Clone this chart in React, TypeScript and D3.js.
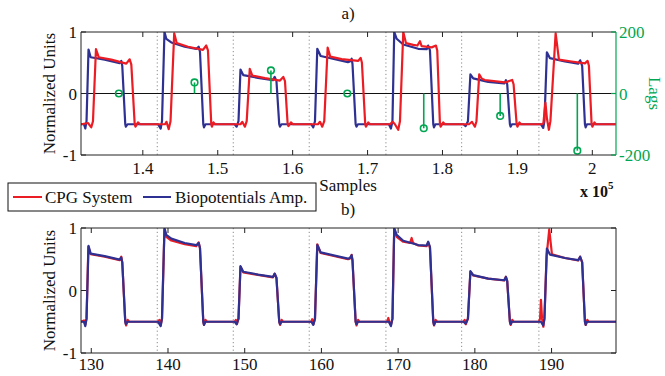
import React from "react";
import { line, scaleLinear } from "d3";

const WIDTH = 665;
const HEIGHT = 376;
const FONT = "'Liberation Serif', 'Times New Roman', serif";
const RED = "#ec1c24";
const BLUE = "#2e3192";
const GREEN = "#00a651";
const FS = 1024; // samples per second

const TOP = { left: 81, right: 616, top: 32, bottom: 155 };
const BOT = { left: 81, right: 616, top: 228, bottom: 353 };

// time domain in seconds (bottom panel), top panel uses samples = t * FS
const timeDomain = [128.66, 198.4];
const topTicks = [1.4, 1.5, 1.6, 1.7, 1.8, 1.9, 2.0];
const bottomTicks = [130, 140, 150, 160, 170, 180, 190];
const yTicks = [-1, 0, 1];
const lagTicks = [-200, 0, 200];
const markerTimes = [138.6, 148.51, 158.41, 168.41, 178.28, 188.35];

const lagPositions = [136800, 146900, 157100, 167300, 177500, 187700, 198000];
const lagValues = [0, 36, 75, 0, -113, -73, -186];

// biopotentials amplifier [seconds, normalized]
const bioAmp: [number, number][] = [
  [128.66, -0.5], [129.05, -0.5], [129.22, -0.57], [129.38, -0.45], [129.64, 0.715], [129.92, 0.59], [131.75, 0.55], [133.7, 0.495], [133.91, 0.53], [134.04, 0.45], [134.43, -0.5], [134.51, -0.54], [134.72, -0.5],
  [138.7, -0.5], [139.05, -0.57], [139.22, -0.45], [139.54, 1.0], [139.78, 0.89], [140.43, 0.83], [142.18, 0.76], [143.69, 0.725], [144.0, 0.76], [144.17, 0.68], [144.6, -0.5], [144.69, -0.55], [144.89, -0.5],
  [148.69, -0.5], [148.95, -0.54], [149.19, -0.45], [149.45, 0.39], [149.81, 0.3], [151.73, 0.255], [153.68, 0.217], [153.91, 0.27], [154.14, 0.2], [154.5, -0.5], [154.6, -0.54], [154.79, -0.5],
  [158.68, -0.5], [158.94, -0.55], [159.16, -0.45], [159.46, 0.727], [159.9, 0.61], [163.46, 0.51], [163.72, 0.52], [163.94, 0.565], [164.05, 0.48], [164.46, -0.5], [164.57, -0.54], [164.76, -0.5],
  [168.8, -0.5], [169.06, -0.57], [169.26, -0.45], [169.49, 1.0], [169.81, 0.89], [170.67, 0.796], [172.62, 0.727], [173.72, 0.72], [173.92, 0.78], [174.15, 0.7], [174.58, -0.5], [174.67, -0.55], [174.86, -0.5],
  [178.51, -0.5], [178.8, -0.53], [179.1, -0.45], [179.42, 0.31], [179.79, 0.245], [181.74, 0.19], [183.83, 0.164], [184.05, 0.217], [184.22, 0.15], [184.57, -0.5], [184.66, -0.54], [184.83, -0.5],
  [188.61, -0.5], [188.91, -0.56], [189.07, -0.45], [189.39, 0.67], [189.79, 0.575], [191.74, 0.52], [193.47, 0.485], [193.73, 0.54], [193.99, 0.45], [194.35, -0.5], [194.44, -0.55], [194.61, -0.5], [198.4, -0.5],
];

// CPG system, raw (top panel)
const cpgRaw: [number, number][] = [
  [128.66, -0.5], [129.57, -0.48], [130.0, -0.55], [130.22, -0.45], [130.61, 0.72], [130.97, 0.59], [132.61, 0.55], [134.56, 0.485], [135.01, 0.556], [135.22, 0.47], [135.66, -0.5], [135.76, -0.54], [136.09, -0.47], [136.35, -0.5],
  [139.61, -0.5], [139.8, -0.46], [140.09, -0.58], [140.33, -0.45], [140.81, 0.98], [141.13, 0.82], [142.61, 0.76], [144.56, 0.71], [144.99, 0.78], [145.21, 0.7], [145.64, -0.5], [145.73, -0.54], [145.93, -0.47], [146.12, -0.5],
  [149.45, -0.5], [149.68, -0.46], [150.03, -0.54], [150.26, -0.45], [150.66, 0.4], [150.99, 0.29], [152.64, 0.25], [154.6, 0.21], [155.03, 0.27], [155.25, 0.2], [155.6, -0.5], [155.7, -0.53], [156.03, -0.47], [156.29, -0.5],
  [159.55, -0.5], [159.81, -0.46], [160.11, -0.54], [160.37, -0.45], [160.81, 0.745], [161.15, 0.6], [162.64, 0.56], [164.8, 0.53], [165.11, 0.58], [165.28, 0.5], [165.71, -0.5], [165.8, -0.54], [166.1, -0.47], [166.33, -0.5],
  [168.93, -0.5], [169.28, -0.46], [169.58, -0.5], [170.01, -0.59], [170.24, -0.45], [170.67, 1.0], [171.02, 0.82], [171.97, 0.79], [172.52, 0.78], [172.84, 0.85], [173.06, 0.77], [174.37, 0.75], [174.93, 0.78], [175.1, 0.7], [175.45, -0.5], [175.54, -0.54], [175.88, -0.47], [176.1, -0.5],
  [179.23, -0.5], [179.62, -0.46], [180.01, -0.54], [180.21, -0.45], [180.57, 0.31], [180.92, 0.24], [181.31, 0.22], [183.92, 0.18], [184.87, 0.22], [185.05, 0.15], [185.45, -0.5], [185.55, -0.54], [185.81, -0.47], [186.01, -0.5],
  [188.74, -0.5], [188.94, -0.48], [189.2, -0.15], [189.39, -0.4], [189.65, -0.59], [189.85, -0.45], [190.53, 0.98], [190.96, 0.55], [192.61, 0.52], [194.35, 0.49], [194.7, 0.53], [194.87, 0.45], [195.22, -0.5], [195.32, -0.54], [195.59, -0.47], [195.78, -0.5], [198.4, -0.5],
];

// CPG system, aligned (bottom panel)
const cpgAligned: [number, number][] = [
  [128.66, -0.5], [129.05, -0.48], [129.22, -0.55], [129.38, -0.45], [129.62, 0.7], [129.92, 0.58], [131.75, 0.54], [133.7, 0.485], [133.91, 0.54], [134.04, 0.45], [134.43, -0.5], [134.55, -0.56], [134.75, -0.47], [134.95, -0.5],
  [138.7, -0.5], [138.88, -0.47], [139.05, -0.55], [139.22, -0.45], [139.54, 0.97], [139.78, 0.86], [140.43, 0.8], [142.18, 0.74], [143.69, 0.71], [144.0, 0.77], [144.17, 0.68], [144.6, -0.5], [144.69, -0.55], [144.89, -0.47], [145.1, -0.5],
  [148.69, -0.5], [148.85, -0.47], [148.98, -0.54], [149.19, -0.45], [149.45, 0.38], [149.81, 0.29], [151.73, 0.25], [153.68, 0.21], [153.91, 0.27], [154.14, 0.2], [154.5, -0.5], [154.62, -0.55], [154.82, -0.47], [155.0, -0.5],
  [158.68, -0.5], [158.8, -0.46], [158.96, -0.54], [159.16, -0.45], [159.46, 0.74], [159.9, 0.6], [163.46, 0.5], [163.72, 0.51], [163.94, 0.57], [164.05, 0.48], [164.46, -0.5], [164.58, -0.56], [164.78, -0.47], [164.95, -0.5],
  [168.55, -0.5], [168.72, -0.44], [168.9, -0.52], [169.06, -0.55], [169.26, -0.45], [169.49, 0.98], [169.81, 0.86], [170.67, 0.78], [171.55, 0.76], [171.76, 0.84], [171.95, 0.76], [172.62, 0.72], [173.72, 0.71], [173.92, 0.77], [174.15, 0.68], [174.58, -0.5], [174.69, -0.56], [174.89, -0.47], [175.1, -0.5],
  [178.51, -0.5], [178.68, -0.47], [178.82, -0.54], [179.1, -0.45], [179.42, 0.3], [179.79, 0.24], [181.74, 0.19], [183.83, 0.16], [184.05, 0.22], [184.22, 0.15], [184.57, -0.5], [184.68, -0.55], [184.88, -0.47], [185.05, -0.5],
  [188.35, -0.5], [188.5, -0.45], [188.62, -0.15], [188.76, -0.45], [188.93, -0.58], [189.07, -0.45], [189.35, 0.55], [189.7, 0.98], [190.05, 0.58], [191.74, 0.52], [193.47, 0.48], [193.73, 0.54], [193.99, 0.45], [194.35, -0.5], [194.46, -0.55], [194.66, -0.47], [194.85, -0.5], [198.4, -0.5],
];

const xTop = scaleLinear().domain([timeDomain[0] * FS, timeDomain[1] * FS]).range([TOP.left, TOP.right]);
const xBot = scaleLinear().domain(timeDomain).range([BOT.left, BOT.right]);
const yTop = scaleLinear().domain([-1, 1]).range([TOP.bottom, TOP.top]);
const yBot = scaleLinear().domain([-1, 1]).range([BOT.bottom, BOT.top]);
const yLag = scaleLinear().domain([-200, 200]).range([TOP.bottom, TOP.top]);

const topLine = line<[number, number]>().x((d) => xTop(d[0] * FS)).y((d) => yTop(d[1]));
const botLine = line<[number, number]>().x((d) => xBot(d[0])).y((d) => yBot(d[1]));

function Frame({ box, xs, ys, right }: { box: typeof TOP; xs: number[]; ys: number[]; right: boolean }) {
  return (
    <g stroke="#222" strokeWidth={1}>
      <line x1={box.left} x2={box.right} y1={box.top} y2={box.top} />
      <line x1={box.left} x2={box.right} y1={box.bottom} y2={box.bottom} />
      <line x1={box.left} x2={box.left} y1={box.top} y2={box.bottom} />
      {right ? <line x1={box.right} x2={box.right} y1={box.top} y2={box.bottom} /> : null}
      {xs.map((x, i) => (
        <g key={`x${i}`}>
          <line x1={x} x2={x} y1={box.bottom} y2={box.bottom - 5} />
          <line x1={x} x2={x} y1={box.top} y2={box.top + 5} />
        </g>
      ))}
      {ys.map((y, i) => (
        <g key={`y${i}`}>
          <line x1={box.left} x2={box.left + 5} y1={y} y2={y} />
          {right ? <line x1={box.right} x2={box.right - 5} y1={y} y2={y} /> : null}
        </g>
      ))}
    </g>
  );
}

export default function App() {
  const txt = { fontFamily: FONT, fontSize: 17, fill: "#111" };
  return (
    <svg width={WIDTH} height={HEIGHT} style={{ position: "absolute", left: 0, top: 0, background: "#fff" }}>
      <defs>
        <clipPath id="clip-top">
          <rect x={TOP.left} y={TOP.top} width={TOP.right - TOP.left} height={TOP.bottom - TOP.top} />
        </clipPath>
        <clipPath id="clip-bot">
          <rect x={BOT.left} y={BOT.top} width={BOT.right - BOT.left} height={BOT.bottom - BOT.top} />
        </clipPath>
      </defs>
      <rect width={WIDTH} height={HEIGHT} fill="#fff" />

      {/* panel a */}
      <text x={348} y={19} textAnchor="middle" {...txt}>a)</text>
      {markerTimes.map((t, i) => (
        <line key={i} x1={xTop(t * FS)} x2={xTop(t * FS)} y1={TOP.top} y2={TOP.bottom} stroke="#8a8a8a" strokeWidth={1} strokeDasharray="1.2 2.6" />
      ))}
      <line x1={TOP.left} x2={TOP.right} y1={yLag(0)} y2={yLag(0)} stroke="#111" strokeWidth={1} />
      <g clipPath="url(#clip-top)" fill="none" strokeWidth={2.2} strokeLinejoin="round">
        <path d={topLine(bioAmp) ?? ""} stroke={BLUE} />
        <path d={topLine(cpgRaw) ?? ""} stroke={RED} />
      </g>
      <g stroke={GREEN} strokeWidth={1.6} fill="#fff">
        {lagPositions.map((p, i) => (
          <g key={i}>
            <line x1={xTop(p)} x2={xTop(p)} y1={yLag(0)} y2={yLag(lagValues[i])} />
            <circle cx={xTop(p)} cy={yLag(lagValues[i])} r={3.3} fill="none" />
          </g>
        ))}
      </g>
      <Frame box={TOP} xs={topTicks.map((v) => xTop(v * 1e5))} ys={yTicks.map((v) => yTop(v))} right={false} />
      <g stroke={GREEN} strokeWidth={1.2}>
        <line x1={TOP.right} x2={TOP.right} y1={TOP.top} y2={TOP.bottom} />
        {lagTicks.map((v) => (
          <line key={v} x1={TOP.right} x2={TOP.right - 5} y1={yLag(v)} y2={yLag(v)} />
        ))}
      </g>
      {topTicks.map((v) => (
        <text key={v} x={xTop(v * 1e5)} y={174} textAnchor="middle" {...txt}>{v === 2 ? "2" : v.toFixed(1)}</text>
      ))}
      {yTicks.map((v) => (
        <text key={v} x={77} y={yTop(v) + 6} textAnchor="end" {...txt}>{v}</text>
      ))}
      {lagTicks.map((v) => (
        <text key={v} x={619} y={yLag(v) + 6} {...txt} fill={GREEN}>{v}</text>
      ))}
      <text transform={`translate(55,${(TOP.top + TOP.bottom) / 2}) rotate(-90)`} textAnchor="middle" {...txt}>Normalized Units</text>
      <text transform={`translate(649,${(TOP.top + TOP.bottom) / 2}) rotate(90)`} textAnchor="middle" {...txt} fill={GREEN}>Lags</text>
      <text x={348} y={191} textAnchor="middle" {...txt}>Samples</text>
      <text x={580} y={197} fontFamily={FONT} fontSize={16} fontWeight="bold" fill="#111">x 10</text>
      <text x={608} y={189} fontFamily={FONT} fontSize={11} fontWeight="bold" fill="#111">5</text>

      {/* legend */}
      <rect x={8} y={183} width={308} height={28} fill="#fff" stroke="#111" strokeWidth={1} />
      <line x1={13} x2={42} y1={197} y2={197} stroke={RED} strokeWidth={2} />
      <text x={45} y={203} {...txt}>CPG System</text>
      <line x1={143} x2={171} y1={197} y2={197} stroke={BLUE} strokeWidth={2} />
      <text x={175} y={203} {...txt}>Biopotentials Amp.</text>

      {/* panel b */}
      <text x={348} y={215} textAnchor="middle" {...txt}>b)</text>
      {markerTimes.map((t, i) => (
        <line key={i} x1={xBot(t)} x2={xBot(t)} y1={BOT.top} y2={BOT.bottom} stroke="#8a8a8a" strokeWidth={1} strokeDasharray="1.2 2.6" />
      ))}
      <g clipPath="url(#clip-bot)" fill="none" strokeWidth={2.2} strokeLinejoin="round">
        <path d={botLine(cpgAligned) ?? ""} stroke={RED} />
        <path d={botLine(bioAmp) ?? ""} stroke={BLUE} />
      </g>
      <Frame box={BOT} xs={bottomTicks.map((v) => xBot(v))} ys={yTicks.map((v) => yBot(v))} right={true} />
      {bottomTicks.map((v) => (
        <text key={v} x={xBot(v)} y={370} textAnchor="middle" {...txt}>{v}</text>
      ))}
      {yTicks.map((v) => (
        <text key={v} x={77} y={yBot(v) + 6} textAnchor="end" {...txt}>{v}</text>
      ))}
      <text transform={`translate(55,${(BOT.top + BOT.bottom) / 2}) rotate(-90)`} textAnchor="middle" {...txt}>Normalized Units</text>
    </svg>
  );
}
